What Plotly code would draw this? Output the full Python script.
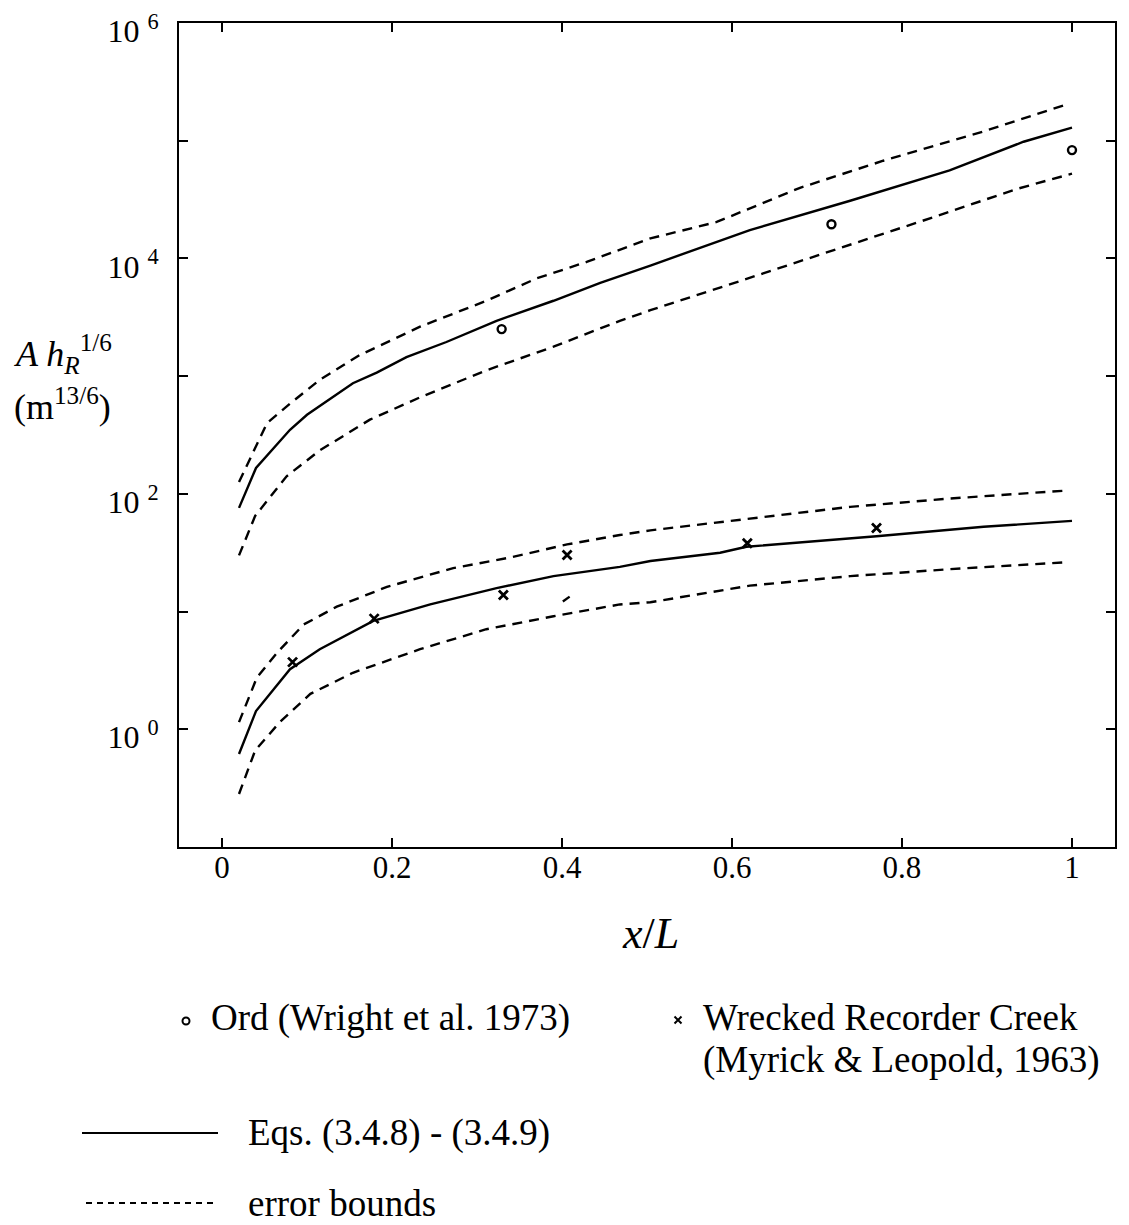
import plotly.graph_objects as go

# ---------------- data ----------------
# Ord (upper group)
ord_model_x = [0.02, 0.04, 0.08, 0.10, 0.154, 0.182, 0.217, 0.264, 0.323, 0.39, 0.445,
               0.504, 0.621, 0.739, 0.856, 0.943, 1.0]
ord_model_y = [76, 166, 350, 470, 870, 1070, 1450, 1950, 2950, 4370, 6200,
               8700, 17400, 30900, 56000, 98000, 129000]

ord_hi_x = [0.02, 0.039, 0.053, 0.082, 0.115, 0.162, 0.233, 0.311, 0.37, 0.429,
            0.504, 0.582, 0.68, 0.778, 0.896, 0.994]
ord_hi_y = [126, 245, 400, 600, 930, 1510, 2630, 4370, 6760, 9330,
            14800, 20400, 39800, 67600, 120000, 204000]

ord_lo_x = [0.02, 0.039, 0.076, 0.115, 0.174, 0.233, 0.311, 0.39, 0.468, 0.504,
            0.602, 0.719, 0.837, 0.935, 1.0]
ord_lo_y = [30, 65, 141, 234, 427, 661, 1120, 1780, 2950, 3630,
            6170, 11700, 22400, 38900, 52500]

ord_obs_x = [0.329, 0.717, 1.0]
ord_obs_y = [2510, 19500, 83200]

# Wrecked Recorder Creek (lower group)
wrc_model_x = [0.02, 0.04, 0.08, 0.115, 0.178, 0.245, 0.323, 0.39, 0.468, 0.504,
               0.586, 0.617, 0.77, 0.896, 1.0]
wrc_model_y = [0.617, 1.43, 3.24, 4.79, 8.32, 11.5, 15.8, 20.0, 24.0, 26.9,
               31.6, 35.5, 43.7, 52.5, 58.9]

wrc_hi_x = [0.02, 0.041, 0.066, 0.096, 0.135, 0.194, 0.272, 0.339, 0.406, 0.468,
            0.504, 0.609, 0.739, 0.856, 0.996]
wrc_hi_y = [1.15, 2.75, 4.57, 7.76, 11.0, 16.2, 23.4, 28.8, 37.2, 44.7,
            49.0, 60.3, 77.6, 91.2, 107]

wrc_lo_x = [0.02, 0.039, 0.068, 0.104, 0.154, 0.233, 0.311, 0.39, 0.468, 0.504,
            0.621, 0.739, 0.856, 0.996]
wrc_lo_y = [0.282, 0.661, 1.15, 2.0, 3.02, 4.79, 7.08, 9.12, 11.5, 12.0,
            16.6, 20.0, 22.9, 26.3]

wrc_obs_x = [0.083, 0.179, 0.331, 0.406, 0.618, 0.770]
wrc_obs_y = [3.72, 8.71, 13.8, 30.2, 38.0, 51.3]

stray_x = [0.401, 0.409]
stray_y = [12.2, 13.4]

x_ticks = [0, 0.2, 0.4, 0.6, 0.8, 1]
x_tick_labels = ["0", "0.2", "0.4", "0.6", "0.8", "1"]
y_ticks = [1e-1, 1e0, 1e1, 1e2, 1e3, 1e4, 1e5, 1e6]
y_tick_labels = ["", "10 <sup>0</sup>", "", "10 <sup>2</sup>", "", "10 <sup>4</sup>", "", "10 <sup>6</sup>"]

# ---------------- figure ----------------
W, H = 1129, 1225
FONT = "Liberation Serif"
BLACK = "black"
DASH = "10px,7px"

fig = go.Figure()

def line(x, y, dash=None, xa="x", ya="y", width=2.4):
    fig.add_trace(go.Scatter(x=x, y=y, mode="lines", xaxis=xa, yaxis=ya,
                             line=dict(color=BLACK, width=width, dash=dash),
                             showlegend=False, hoverinfo="skip"))

line(ord_model_x, ord_model_y)
line(ord_hi_x, ord_hi_y, DASH)
line(ord_lo_x, ord_lo_y, DASH)
line(wrc_model_x, wrc_model_y)
line(wrc_hi_x, wrc_hi_y, DASH)
line(wrc_lo_x, wrc_lo_y, DASH)
line(stray_x, stray_y)

fig.add_trace(go.Scatter(x=ord_obs_x, y=ord_obs_y, mode="markers", showlegend=False,
                         marker=dict(symbol="circle-open", size=8, color=BLACK,
                                     line=dict(width=2.4, color=BLACK))))
fig.add_trace(go.Scatter(x=wrc_obs_x, y=wrc_obs_y, mode="markers", showlegend=False,
                         marker=dict(symbol="x-thin-open", size=9, color=BLACK,
                                     line=dict(width=2.8, color=BLACK))))

# legend drawn on an overlay pixel axis
fig.add_trace(go.Scatter(x=[186], y=[1021], mode="markers", xaxis="x2", yaxis="y2",
                         showlegend=False, hoverinfo="skip",
                         marker=dict(symbol="circle-open", size=7, color=BLACK,
                                     line=dict(width=2, color=BLACK))))
fig.add_trace(go.Scatter(x=[678], y=[1020], mode="markers", xaxis="x2", yaxis="y2",
                         showlegend=False, hoverinfo="skip",
                         marker=dict(symbol="x-thin-open", size=7, color=BLACK,
                                     line=dict(width=2, color=BLACK))))
line([82, 218], [1133, 1133], None, "x2", "y2", 2)
line([86, 218], [1203, 1203], "6px,5px", "x2", "y2", 2)

def txt(x, y, s, size=37, anchor="left"):
    fig.add_annotation(x=x, y=y, xref="x2", yref="y2", text=s, showarrow=False,
                       xanchor=anchor, yanchor="middle",
                       font=dict(family=FONT, size=size, color=BLACK))

txt(209, 1018, "Ord (Wright et al. 1973)")
txt(701, 1017, "Wrecked Recorder Creek")
txt(701, 1060, "(Myrick &amp; Leopold, 1963)")
txt(246, 1133, "Eqs. (3.4.8) - (3.4.9)")
txt(246, 1203, "error bounds")
txt(12, 354, "<i>A h<sub>R</sub></i><sup>1/6</sup>", size=36)
txt(12, 404, "(m<sup>13/6</sup>)", size=36)
txt(650, 933, "<i>x</i>/<i>L</i>", size=44, anchor="center")

x0, x1 = 179 / W, 1115 / W
ytop, ybot = 23, 847
fig.update_layout(
    width=W, height=H,
    margin=dict(l=0, r=0, t=0, b=0),
    paper_bgcolor="white", plot_bgcolor="rgba(0,0,0,0)",
    font=dict(family=FONT, color=BLACK),
    showlegend=False,
    xaxis=dict(domain=[x0, x1], range=[-0.0506, 1.0506], tickvals=x_ticks,
               ticktext=x_tick_labels, ticks="inside", ticklen=9, tickwidth=2,
               tickcolor=BLACK, showline=True, linewidth=2, linecolor=BLACK,
               mirror="ticks", showgrid=False, zeroline=False,
               tickfont=dict(family=FONT, size=31, color=BLACK),
               ticklabelstandoff=-8, automargin=False, anchor="y"),
    yaxis=dict(domain=[1 - ybot / H, 1 - ytop / H], type="log", range=[-1, 6],
               tickvals=y_ticks, ticktext=y_tick_labels, ticks="inside", ticklen=9,
               tickwidth=2, tickcolor=BLACK, showline=True, linewidth=2,
               linecolor=BLACK, mirror="ticks", showgrid=False, zeroline=False,
               tickfont=dict(family=FONT, size=32, color=BLACK),
               ticklabelstandoff=12, ticklabelshift=8, ticklabeloverflow="allow",
               automargin=False, anchor="x"),
    xaxis2=dict(domain=[0, 1], range=[0, W], visible=False, anchor="y2"),
    yaxis2=dict(domain=[0, 1], range=[H, 0], visible=False, anchor="x2"),
)

fig.write_html("out.html")
